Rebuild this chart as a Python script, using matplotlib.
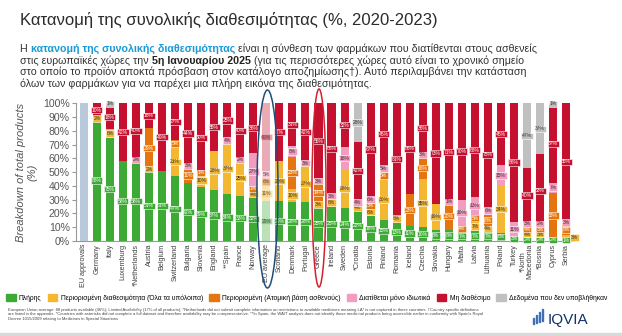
import matplotlib
matplotlib.use('Agg')
import matplotlib.pyplot as plt
from matplotlib.patches import Ellipse, Patch, Rectangle
import numpy as np

plt.rcParams['font.family'] = ['Liberation Sans', 'DejaVu Sans']

# data (% of products)
countries = ['EU approvals', 'Germany', 'Italy', 'Luxemburg', '*Netherlands', 'Austria', 'Belgium',
             'Switzerland', 'Bulgaria', 'Slovenia', 'England', '**Spain', 'France', 'Norway',
             'EU average', 'Scotland', 'Denmark', 'Portugal', 'Greece', 'Ireland', 'Sweden',
             '*Croatia', 'Estonia', 'Finland', 'Romania', 'Iceland', 'Czechia', 'Slovakia',
             'Hungary', 'Malta', 'Latvia', 'Lithuania', 'Poland', 'Turkey', '*North\nMacedonia',
             '*Bosnia', 'Cyprus', 'Serbia']
full          = [0, 88, 75, 58, 58, 51, 51, 47, 42, 39, 37, 34, 33, 32, 29, 29, 28, 28, 25, 25, 24, 22, 18, 15, 13, 11, 10, 8, 8, 7, 7, 7, 6, 3, 2, 2, 2, 1]
limited       = [0, 2, 6, 0, 0, 2, 0, 21, 0, 10, 28, 37, 25, 4, 11, 29, 10, 27, 3, 6, 28, 4, 6, 30, 6, 0, 35, 19, 0, 0, 7, 4, 34, 0, 4, 3, 0, 3]
individual    = [0, 0, 0, 0, 0, 29, 0, 5, 11, 1, 0, 0, 0, 1, 6, 0, 23, 0, 14, 0, 0, 0, 3, 5, 0, 23, 16, 0, 20, 4, 5, 8, 0, 0, 4, 3, 33, 8]
private_only  = [0, 0, 0, 0, 2, 0, 0, 0, 3, 0, 0, 4, 2, 27, 5, 0, 8, 3, 3, 3, 16, 4, 6, 5, 0, 0, 3, 0, 1, 19, 13, 6, 15, 11, 3, 2, 7, 3]
not_available = [0, 10, 18, 42, 40, 18, 49, 27, 44, 50, 35, 25, 40, 36, 49, 42, 31, 42, 55, 66, 32, 42, 67, 45, 81, 66, 36, 73, 71, 70, 68, 75, 45, 86, 40, 53, 57, 85]
not_submitted = [0, 0, 1, 0, 0, 0, 0, 0, 0, 0, 0, 0, 0, 0, 0, 0, 0, 0, 0, 0, 0, 28, 0, 0, 0, 0, 0, 0, 0, 0, 0, 0, 0, 0, 47, 37, 1, 0]
eu_approvals = 100

legend_labels = ['Πλήρης', 'Περιορισμένη διαθεσιμότητα (Όλα τα υπόλοιπα)',
                 'Περιορισμένη (Ατομική βάση ασθενούς)', 'Διατίθεται μόνο ιδιωτικά',
                 'Μη διαθέσιμο', 'Δεδομένα που δεν υποβλήθηκαν']
yticks = [0, 10, 20, 30, 40, 50, 60, 70, 80, 90, 100]

series = [full, limited, individual, private_only, not_available, not_submitted]
colors = ['#3daa35', '#f4b731', '#e5760f', '#f29cbf', '#c5102f', '#c0c0c0']
txt_colors = ['white', '#333333', 'white', '#333333', 'white', '#333333']

W, H = 622, 336
fig = plt.figure(figsize=(W / 100, H / 100), dpi=100)

# ---- header text ----
fig.text(20 / W, 1 - 20 / H, 'Κατανομή της συνολικής διαθεσιμότητας (%, 2020-2023)',
         fontsize=12, color='#2b2b2b', va='center')

renderer = fig.canvas.get_renderer()


def rich_line(x, y, parts, fs=7.7):
    for s, kw in parts:
        t = fig.text(x, y, s, fontsize=fs, va='center', color=kw.get('color', '#333333'),
                     fontweight=kw.get('weight', 'normal'))
        x += t.get_window_extent(renderer).width / W


blue = {'color': '#1a9ad6', 'weight': 'bold'}
bold = {'color': '#222222', 'weight': 'bold'}
plain = {}
para = [
    [('Η ', plain), ('κατανομή της συνολικής διαθεσιμότητας', blue),
     (' είναι η σύνθεση των φαρμάκων που διατίθενται στους ασθενείς', plain)],
    [('στις ευρωπαϊκές χώρες την ', plain), ('5η Ιανουαρίου 2025', bold),
     (' (για τις περισσότερες χώρες αυτό είναι το χρονικό σημείο', plain)],
    [('στο οποίο το προϊόν αποκτά πρόσβαση στον κατάλογο αποζημίωσης†). Αυτό περιλαμβάνει την κατάσταση', plain)],
    [('όλων των φαρμάκων για να παρέχει μια πλήρη εικόνα της διαθεσιμότητας.', plain)],
]
for k, line in enumerate(para):
    rich_line(20 / W, 1 - (49 + 11.5 * k) / H, line)

# ---- chart ----
ax = fig.add_axes([76 / W, 95 / H, 498 / W, 137.7 / H])
x = np.arange(len(countries))
eu_idx = countries.index('EU average')
last = len(countries) - 1
bottom = np.zeros(len(countries))
last_y = np.full(len(countries), -10.0)
for vals, col, tc, name in zip(series, colors, txt_colors, legend_labels):
    vals = np.array(vals, dtype=float)
    bars = ax.bar(x, vals, 0.62, bottom=bottom, color=col, label=name)
    bars[eu_idx].set_alpha(0.35)
    for i in range(len(x)):
        if vals[i] <= 0:
            continue
        a = 0.4 if i == eu_idx else 1
        yl = bottom[i] + vals[i] / 2
        xl, ha = i, 'center'
        if yl - last_y[i] < 3.8:
            if i == last:
                # last bar: crowded labels go to the right of it
                xl, ha = i + 0.36, 'left'
            else:
                yl = last_y[i] + 3.8
        ax.text(xl, yl, f'{int(vals[i])}%', ha=ha, va='center',
                fontsize=3.6, color=tc if i != eu_idx else '#555555',
                bbox=dict(boxstyle='square,pad=0.12', fc=col, ec='white', lw=0.4, alpha=a))
        last_y[i] = yl
    bottom += vals
ax.bar(0, eu_approvals, 0.62, color='#b9c9dc')

ax.set_xlim(-0.6, len(countries) - 0.4)
ax.set_ylim(0, 100)
ax.set_yticks(yticks)
ax.set_yticklabels([f'{v}%' for v in yticks])
ax.set_xticks(x)
ax.set_xticklabels(countries, rotation=90, fontsize=5.2, color='#404040', linespacing=0.9)
ax.tick_params(axis='x', length=0, pad=2)
ax.tick_params(axis='y', labelsize=7.6, labelcolor='#555555', length=3, color='#999999', pad=1.5)
for s in ['top', 'right']:
    ax.spines[s].set_visible(False)
ax.spines['left'].set_color('#999999')
ax.spines['bottom'].set_color('#999999')
ax.set_ylabel('Breakdown of total products\n(%)', fontsize=8, style='italic', color='#555555',
              labelpad=4)

# highlight ellipses
fig.patches.append(Ellipse((267.5 / W, 1 - 189 / H), 21 / W, 198 / H, transform=fig.transFigure,
                           fill=False, ec='#1f4e79', lw=1.1))
fig.patches.append(Ellipse((319 / W, 1 - 188 / H), 14 / W, 198 / H, transform=fig.transFigure,
                           fill=False, ec='#d4202f', lw=1.1))

# ---- legend ----
handles = [Patch(color=c) for c in colors]
fig.legend(handles, legend_labels, loc='center left', bbox_to_anchor=(6 / W, 1 - 298 / H),
           ncol=6, frameon=False, fontsize=4.9, handlelength=1.4, handleheight=1.3,
           handletextpad=0.5, columnspacing=0.9, borderaxespad=0, borderpad=0)

# ---- footnote ----
foot = ["European Union average: 88 products available (46%); Limited Availability (17% of all products); "
        "*Netherlands did not submit complete information on restrictions to available medicines meaning LA* "
        "is not captured in these countries. \u2020Country specific definitions",
        "are listed in the appendix. *Countries with asterisks did not complete a full dataset and therefore "
        "availability may be unrepresentative. **In Spain, the WAIT analysis does not identify those medicinal "
        "products being accessible earlier in conformity with Spain's Royal",
        "Decree 1015/2009 relating to Medicines in Special Situations"]
for k, s in enumerate(foot):
    fig.text(8 / W, 1 - (310 + 4.3 * k) / H, s, fontsize=3.0, color='#444444', va='center')

# IQVIA mark
for j in range(4):
    fig.patches.append(Rectangle(((533 + j * 3) / W, 1 - (324 - j) / H), 1.4 / W, (6 + 2 * j) / H,
                                 transform=fig.transFigure, color='#3f6fb5'))
fig.text(548 / W, 1 - 320 / H, 'IQVIA', fontsize=11, color='#12336b', va='center')
fig.patches.append(Rectangle((0, 0), 1, 3 / H, transform=fig.transFigure, color='#d9d9d9'))

fig.savefig('out.png', dpi=100)
